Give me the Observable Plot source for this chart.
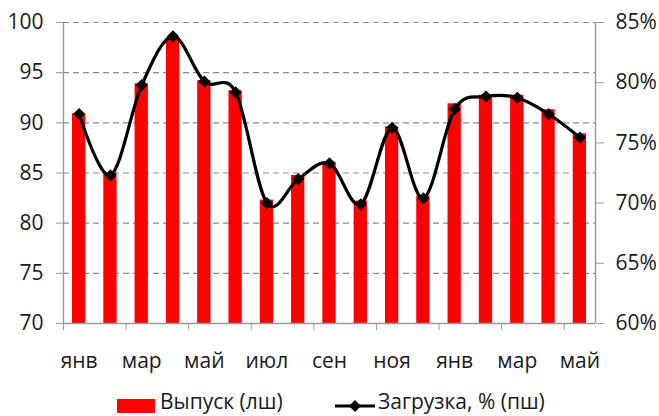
<!DOCTYPE html>
<html>
<head>
<meta charset="utf-8">
<script src="https://cdn.jsdelivr.net/npm/d3@7"></script>
<script src="https://cdn.jsdelivr.net/npm/@observablehq/plot@0.6"></script>
<style>
  html, body { margin: 0; padding: 0; background: #fff; }
  #wrap { position: relative; width: 659px; height: 416px; overflow: hidden; font-family: "Open Sans", sans-serif; color: #1a1a1a; }
  #legend { position: absolute; left: 0; top: 388px; width: 659px; height: 28px; font-size: 21px; }
  .sw { position: absolute; }
  .lt { position: absolute; top: -1px; line-height: 28px; white-space: nowrap; }
</style>
</head>
<body>
<div id="wrap">
  <div id="chart"></div>
  <div id="legend">
    <div class="sw" style="left:117px; top:11px; width:38px; height:14px; background:#ff0000;"></div>
    <div class="lt" id="lg1" style="left:160px;"></div>
    <svg class="sw" style="left:334px; top:8px;" width="42" height="20">
      <line x1="1" y1="10" x2="41" y2="10" stroke="#000" stroke-width="3"></line>
      <path d="M21,4 L27,10 L21,16 L15,10 Z" fill="#000"></path>
    </svg>
    <div class="lt" id="lg2" style="left:378px;"></div>
  </div>
</div>
<script>
// ---- data ----
const months = ["янв","фев","мар","апр","май","июн","июл","авг","сен","окт","ноя","дек","янв","фев","мар","апр","май"];
const output = [90.9, 85.0, 93.9, 98.5, 94.2, 93.2, 82.3, 84.75, 86.05, 82.2, 89.6, 82.7, 91.9, 92.75, 92.75, 91.3, 88.9];
const load = [77.4, 72.3, 79.8, 83.85, 80.1, 79.2, 70.0, 72.0, 73.3, 69.9, 76.25, 70.4, 77.8, 78.85, 78.75, 77.4, 75.45];
const leftTicks = [70, 75, 80, 85, 90, 95, 100];
const rightTicks = [60, 65, 70, 75, 80, 85];
const seriesNames = ["Выпуск (лш)", "Загрузка, % (пш)"];

document.getElementById("lg1").textContent = seriesNames[0];
document.getElementById("lg2").textContent = seriesNames[1];

// map right axis (60..85 %) onto left axis (70..100)
const L0 = 70, L1 = 100, R0 = 60, R1 = 85;
const toLeft = p => L0 + (p - R0) * (L1 - L0) / (R1 - R0);

const data = months.map((m, i) => ({i, m, v: output[i], p: load[i], pl: toLeft(load[i])}));
const labelIdx = months.map((m, i) => i).filter(i => i % 2 === 0);
const tickIdx = labelIdx.map(i => i - 0.5);
const rightPos = rightTicks.map(toLeft);
const rightLabel = new Map(rightPos.map((pos, k) => [pos, rightTicks[k] + "%"]));

const axisGray = "#9a9a9a";

const chart = Plot.plot({
  width: 659,
  height: 388,
  marginLeft: 63,
  marginRight: 64,
  marginTop: 22,
  marginBottom: 65,
  style: {fontFamily: "Open Sans, sans-serif", fontSize: "21px", color: "#1a1a1a", background: "#fff"},
  x: {type: "linear", domain: [-0.5, months.length - 0.5], axis: null, label: null},
  y: {domain: [L0, L1], axis: null, label: null},
  marks: [
    Plot.ruleY(leftTicks.filter(t => t > L0), {stroke: "#8a8a8a", strokeWidth: 1.2, strokeDasharray: "6,4"}),
    Plot.rectY(data, {x1: d => d.i - 0.5, x2: d => d.i + 0.5, y1: L0, y2: "v", fill: "#ff0000", insetLeft: 9, insetRight: 9}),
    Plot.ruleX([-0.5, months.length - 0.5], {stroke: axisGray, strokeWidth: 1.4}),
    Plot.ruleY([L0], {stroke: axisGray, strokeWidth: 1.4}),
    Plot.axisY(leftTicks, {anchor: "left", label: null, tickSize: 7, tickPadding: 13, stroke: axisGray, fill: "#1a1a1a", tickFormat: d => String(d)}),
    Plot.axisY(rightPos, {anchor: "right", label: null, tickSize: 8, tickPadding: 12, stroke: axisGray, fill: "#1a1a1a", tickFormat: d => rightLabel.get(d)}),
    Plot.axisX(tickIdx, {anchor: "bottom", label: null, tickSize: 7, stroke: axisGray, tickFormat: () => ""}),
    Plot.axisX(labelIdx, {anchor: "bottom", label: null, tickSize: 0, tickPadding: 30, fill: "#1a1a1a", tickFormat: i => months[i]}),
    Plot.line(data, {x: "i", y: "pl", curve: "cardinal", stroke: "#000", strokeWidth: 3.2}),
    Plot.dot(data, {x: "i", y: "pl", symbol: "diamond2", r: 5.5, fill: "#000", stroke: "none"})
  ]
});
document.getElementById("chart").appendChild(chart);
</script>
</body>
</html>
